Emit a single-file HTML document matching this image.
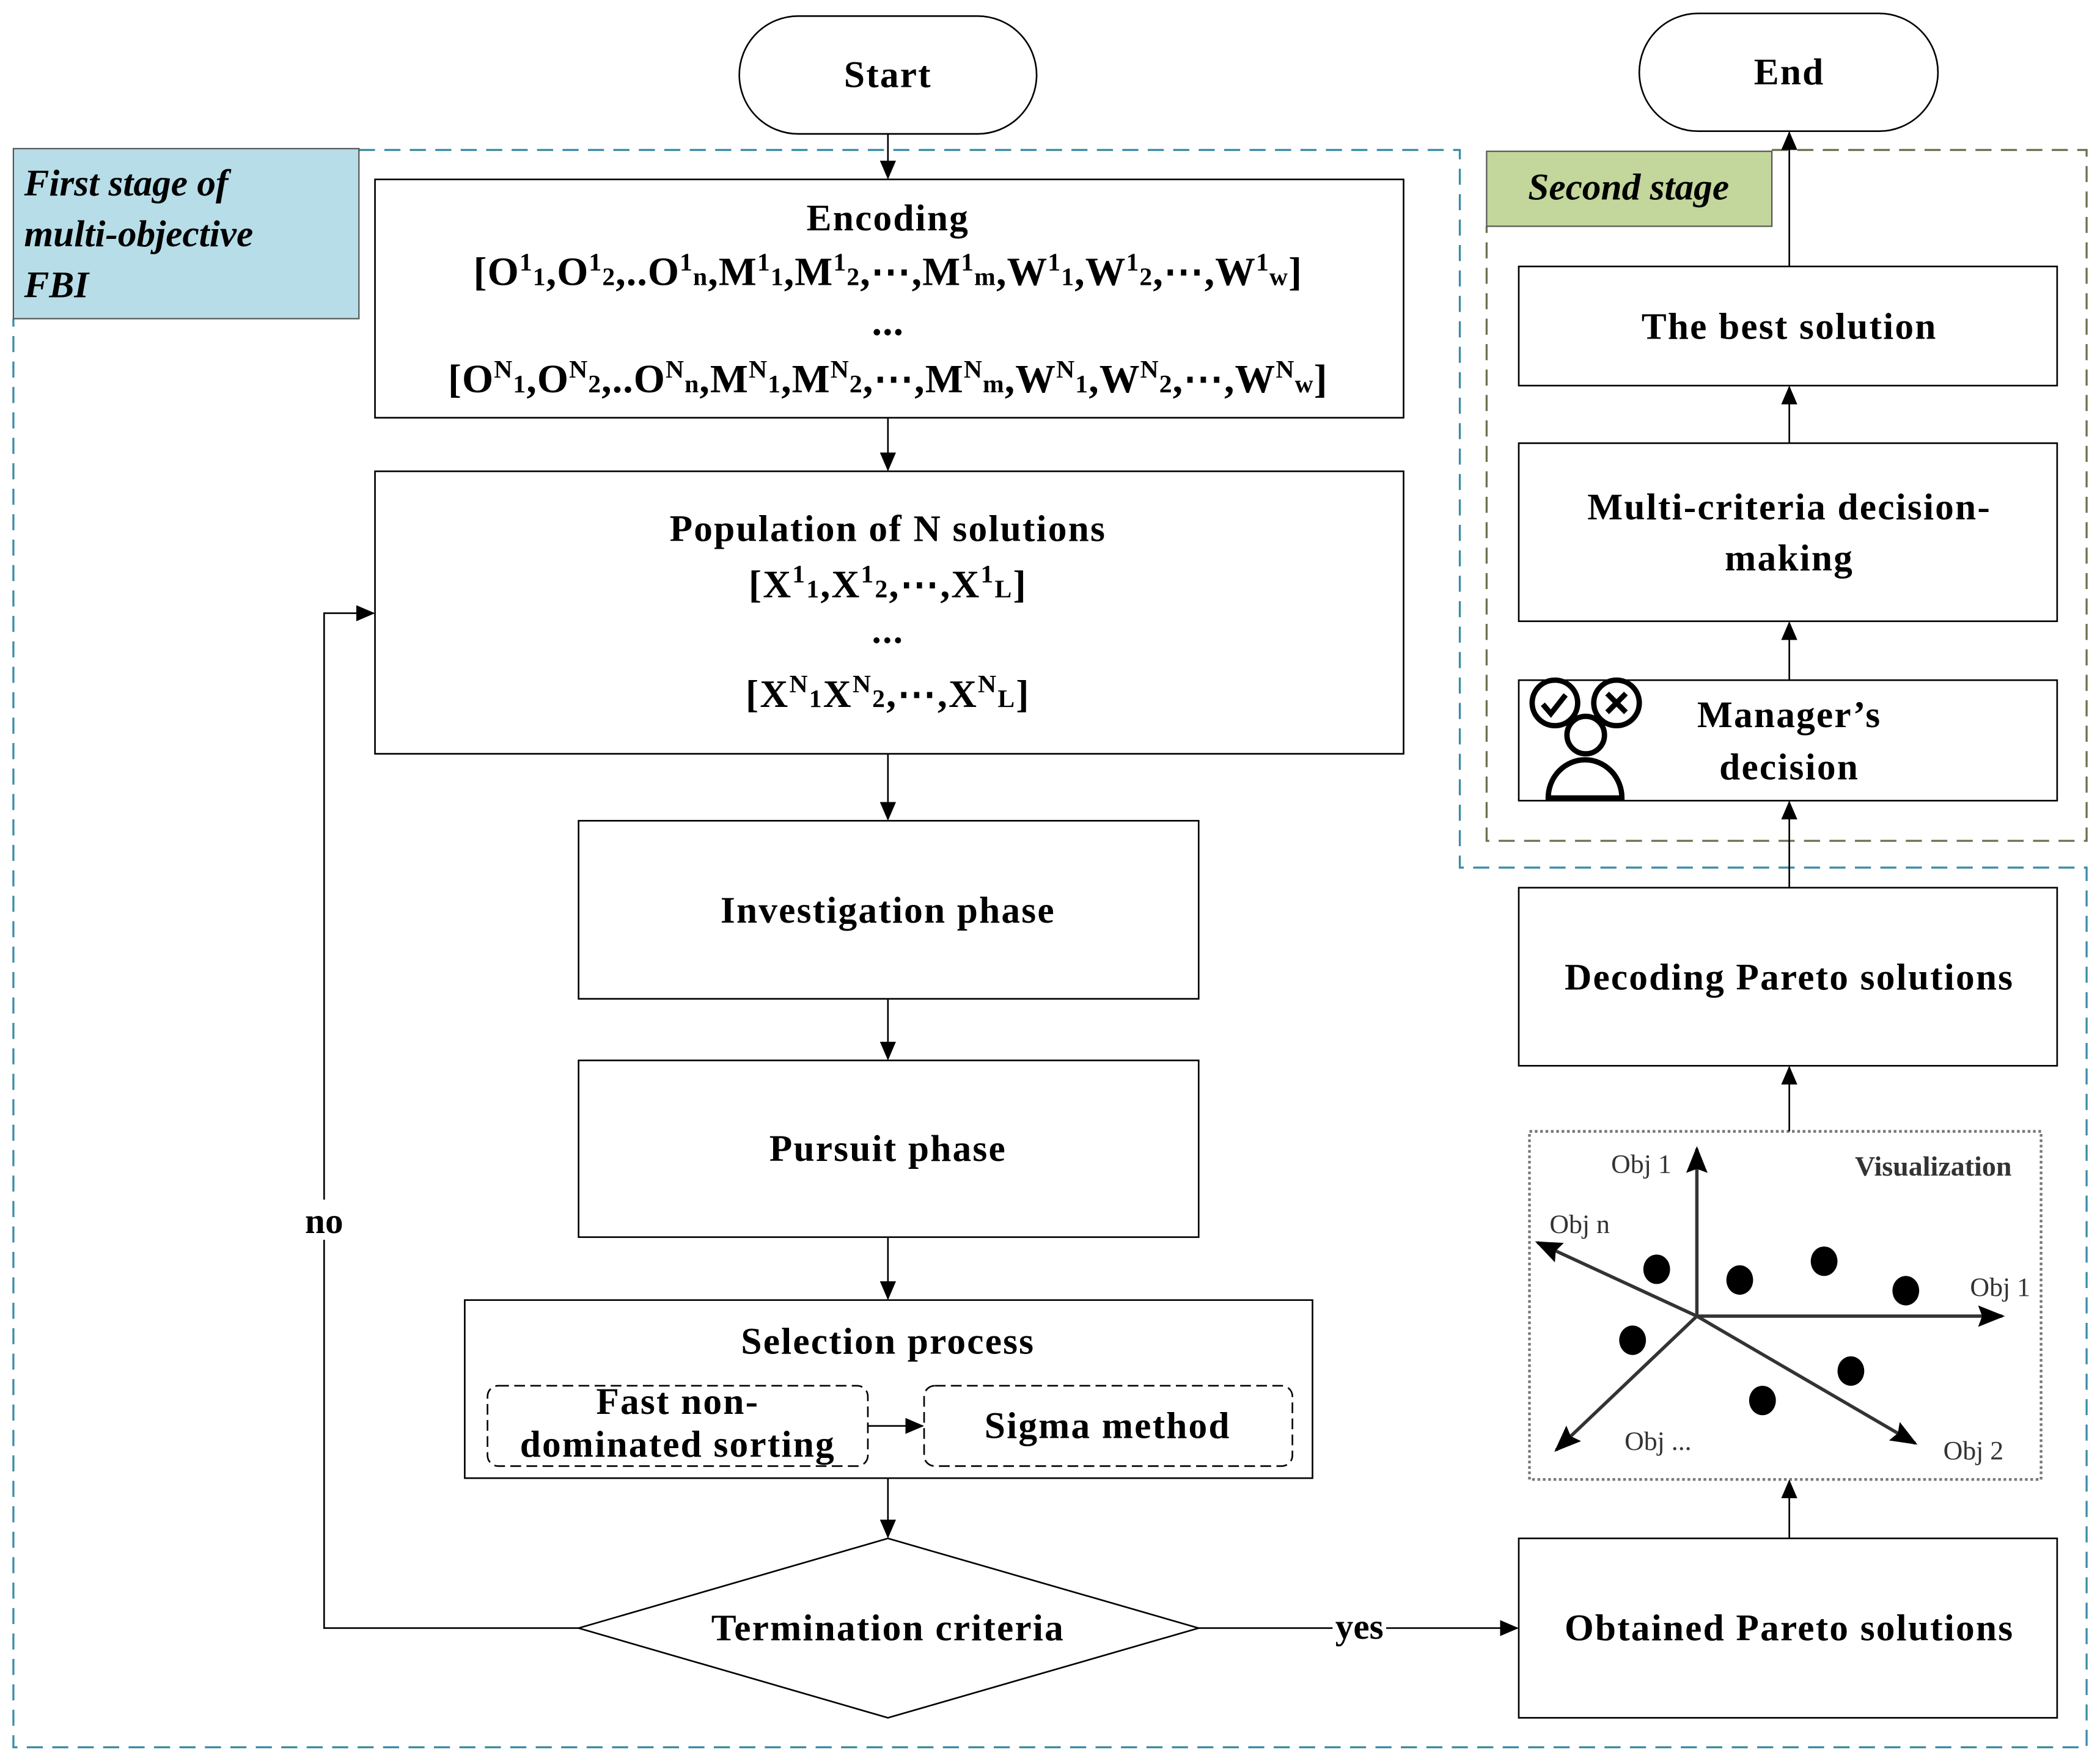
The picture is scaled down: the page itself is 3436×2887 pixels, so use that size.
<!DOCTYPE html>
<html><head><meta charset="utf-8"><style>html,body{margin:0;padding:0;background:#fff}svg{display:block}</style></head><body>
<svg width="3436" height="2887" viewBox="0 0 1568 1317.5" preserveAspectRatio="none" xmlns="http://www.w3.org/2000/svg" font-family="Liberation Serif, serif" font-weight="bold">
<defs><marker id="a" markerWidth="14" markerHeight="14" refX="13" refY="7" orient="auto" markerUnits="userSpaceOnUse"><path d="M0,1 L14,7 L0,13 z" fill="#000"/></marker>
<marker id="b" markerWidth="20" markerHeight="16" refX="18" refY="8" orient="auto" markerUnits="userSpaceOnUse"><path d="M0,0 L20,8 L0,16 L3,8 z" fill="#000"/></marker></defs>
<rect width="1568" height="1317.5" fill="#fff"/>
<path d="M268,112 H1090 V648 H1558 V1305 H10 V238" fill="none" stroke="#3a8ca6" stroke-width="1.5" stroke-dasharray="12,7"/>
<rect x="10" y="111" width="258" height="127" fill="#b7dde8" stroke="#555" stroke-width="1"/>
<text x="18" y="146" font-size="28" font-style="italic">First stage of</text>
<text x="18" y="184" font-size="28" font-style="italic">multi-objective</text>
<text x="18" y="222" font-size="28" font-style="italic">FBI</text>
<path d="M1323,112 H1558 V628 H1110 V169" fill="none" stroke="#6f6f4f" stroke-width="1.5" stroke-dasharray="12,7"/>
<rect x="1110" y="113" width="213" height="56" fill="#c3d69b" stroke="#555" stroke-width="1"/>
<text x="1216" y="149" font-size="28" font-style="italic" text-anchor="middle">Second stage</text>
<g fill="none" stroke="#000" stroke-width="1.2">
<rect x="552" y="12" width="222" height="88" rx="44"/>
<rect x="1224" y="10" width="223" height="88" rx="44"/>
<rect x="280" y="134" width="768" height="178"/>
<rect x="280" y="352" width="768" height="211"/>
<rect x="432" y="613" width="463" height="133"/>
<rect x="432" y="792" width="463" height="132"/>
<rect x="347" y="971" width="633" height="133"/>
<rect x="364" y="1035" width="284" height="60" rx="8" stroke-dasharray="8,4"/>
<rect x="690" y="1035" width="275" height="60" rx="8" stroke-dasharray="8,4"/>
<path d="M432,1216 L663,1149 L895,1216 L663,1283 Z"/>
<rect x="1134" y="1149" width="402" height="134"/>
<rect x="1134" y="663" width="402" height="133"/>
<rect x="1134" y="508" width="402" height="90"/>
<rect x="1134" y="331" width="402" height="133"/>
<rect x="1134" y="199" width="402" height="89"/>
<rect x="1142" y="845" width="382" height="260" stroke="#777" stroke-width="2" stroke-dasharray="2,2"/>
</g>
<g stroke="#000" stroke-width="1.2" fill="none" marker-end="url(#a)">
<line x1="663" y1="100" x2="663" y2="133"/>
<line x1="663" y1="312" x2="663" y2="351"/>
<line x1="663" y1="563" x2="663" y2="612"/>
<line x1="663" y1="746" x2="663" y2="791"/>
<line x1="663" y1="924" x2="663" y2="970"/>
<line x1="663" y1="1104" x2="663" y2="1148"/>
<line x1="648" y1="1065" x2="689" y2="1065"/>
<polyline points="432,1216 242,1216 242,458 279,458"/>
<line x1="895" y1="1216" x2="1133" y2="1216"/>
<line x1="1336" y1="1149" x2="1336" y2="1106"/>
<line x1="1336" y1="845" x2="1336" y2="797"/>
<line x1="1336" y1="663" x2="1336" y2="599"/>
<line x1="1336" y1="508" x2="1336" y2="465"/>
<line x1="1336" y1="331" x2="1336" y2="289"/>
<line x1="1336" y1="199" x2="1336" y2="99"/>
</g>
<rect x="225" y="896" width="34" height="30" fill="#fff"/>
<text x="242" y="921" font-size="27" text-anchor="middle">no</text>
<rect x="995" y="1202" width="40" height="28" fill="#fff"/>
<text x="1015" y="1224" font-size="27" text-anchor="middle">yes</text>
<g font-size="28" text-anchor="middle" letter-spacing="1">
<text x="663" y="65">Start</text>
<text x="1336" y="63">End</text>
<text x="663" y="172">Encoding</text>
<g font-size="30" letter-spacing="0.5">
<text x="663" y="213">[O<tspan dy="-11" font-size="19">1</tspan><tspan dy="11" font-size="19">1</tspan>,O<tspan dy="-11" font-size="19">1</tspan><tspan dy="11" font-size="19">2</tspan>,..O<tspan dy="-11" font-size="19">1</tspan><tspan dy="11" font-size="19">n</tspan>,M<tspan dy="-11" font-size="19">1</tspan><tspan dy="11" font-size="19">1</tspan>,M<tspan dy="-11" font-size="19">1</tspan><tspan dy="11" font-size="19">2</tspan>,⋯,M<tspan dy="-11" font-size="19">1</tspan><tspan dy="11" font-size="19">m</tspan>,W<tspan dy="-11" font-size="19">1</tspan><tspan dy="11" font-size="19">1</tspan>,W<tspan dy="-11" font-size="19">1</tspan><tspan dy="11" font-size="19">2</tspan>,⋯,W<tspan dy="-11" font-size="19">1</tspan><tspan dy="11" font-size="19">w</tspan>]</text>
<text x="663" y="250">...</text>
<text x="663" y="293">[O<tspan dy="-11" font-size="19">N</tspan><tspan dy="11" font-size="19">1</tspan>,O<tspan dy="-11" font-size="19">N</tspan><tspan dy="11" font-size="19">2</tspan>,..O<tspan dy="-11" font-size="19">N</tspan><tspan dy="11" font-size="19">n</tspan>,M<tspan dy="-11" font-size="19">N</tspan><tspan dy="11" font-size="19">1</tspan>,M<tspan dy="-11" font-size="19">N</tspan><tspan dy="11" font-size="19">2</tspan>,⋯,M<tspan dy="-11" font-size="19">N</tspan><tspan dy="11" font-size="19">m</tspan>,W<tspan dy="-11" font-size="19">N</tspan><tspan dy="11" font-size="19">1</tspan>,W<tspan dy="-11" font-size="19">N</tspan><tspan dy="11" font-size="19">2</tspan>,⋯,W<tspan dy="-11" font-size="19">N</tspan><tspan dy="11" font-size="19">w</tspan>]</text>
</g>
<text x="663" y="404">Population of N solutions</text>
<text x="663" y="446" font-size="29">[X<tspan dy="-11" font-size="19">1</tspan><tspan dy="11" font-size="19">1</tspan>,X<tspan dy="-11" font-size="19">1</tspan><tspan dy="11" font-size="19">2</tspan>,⋯,X<tspan dy="-11" font-size="19">1</tspan><tspan dy="11" font-size="19">L</tspan>]</text>
<text x="663" y="480">...</text>
<text x="663" y="528" font-size="29">[X<tspan dy="-11" font-size="19">N</tspan><tspan dy="11" font-size="19">1</tspan>X<tspan dy="-11" font-size="19">N</tspan><tspan dy="11" font-size="19">2</tspan>,⋯,X<tspan dy="-11" font-size="19">N</tspan><tspan dy="11" font-size="19">L</tspan>]</text>
<text x="663" y="689">Investigation phase</text>
<text x="663" y="867">Pursuit phase</text>
<text x="663" y="1011">Selection process</text>
<text x="506" y="1056">Fast non-</text>
<text x="506" y="1088">dominated sorting</text>
<text x="827" y="1074">Sigma method</text>
<text x="663" y="1225">Termination criteria</text>
<text x="1336" y="1225">Obtained Pareto solutions</text>
<text x="1336" y="739">Decoding Pareto solutions</text>
<text x="1336" y="543">Manager’s</text>
<text x="1336" y="582">decision</text>
<text x="1336" y="388">Multi-criteria decision-</text>
<text x="1336" y="426">making</text>
<text x="1336" y="253">The best solution</text>
</g>
<g fill="none" stroke="#000" stroke-width="4">
<circle cx="1161" cy="525" r="17"/><circle cx="1207" cy="525" r="17"/>
<circle cx="1184" cy="549" r="14" fill="#fff"/>
<path d="M1156,596 A27,28 0 0 1 1211,596 Z"/>
<path d="M1152,526 L1158,533 L1169,519"/>
<path d="M1200,518 L1214,532 M1214,518 L1200,532"/>
</g>
<g stroke="#333" stroke-width="2.5" fill="none" marker-end="url(#b)">
<line x1="1267" y1="983" x2="1267" y2="858"/>
<line x1="1267" y1="983" x2="1495" y2="983"/>
<line x1="1267" y1="983" x2="1148" y2="928"/>
<line x1="1267" y1="983" x2="1162" y2="1083"/>
<line x1="1267" y1="983" x2="1430" y2="1078"/>
</g>
<g fill="#000">
<ellipse cx="1237" cy="948" rx="10" ry="11"/><ellipse cx="1299" cy="956" rx="10" ry="11"/>
<ellipse cx="1362" cy="942" rx="10" ry="11"/><ellipse cx="1423" cy="964" rx="10" ry="11"/>
<ellipse cx="1219" cy="1001" rx="10" ry="11"/><ellipse cx="1382" cy="1024" rx="10" ry="11"/>
<ellipse cx="1316" cy="1046" rx="10" ry="11"/>
</g>
<g font-weight="normal" font-size="20" fill="#333">
<text x="1203" y="876">Obj 1</text>
<text x="1157" y="921">Obj n</text>
<text x="1471" y="968">Obj 1</text>
<text x="1213" y="1083">Obj ...</text>
<text x="1451" y="1090">Obj 2</text>
<text x="1385" y="878" font-weight="bold" font-size="21">Visualization</text>
</g>
</svg>
</body></html>
